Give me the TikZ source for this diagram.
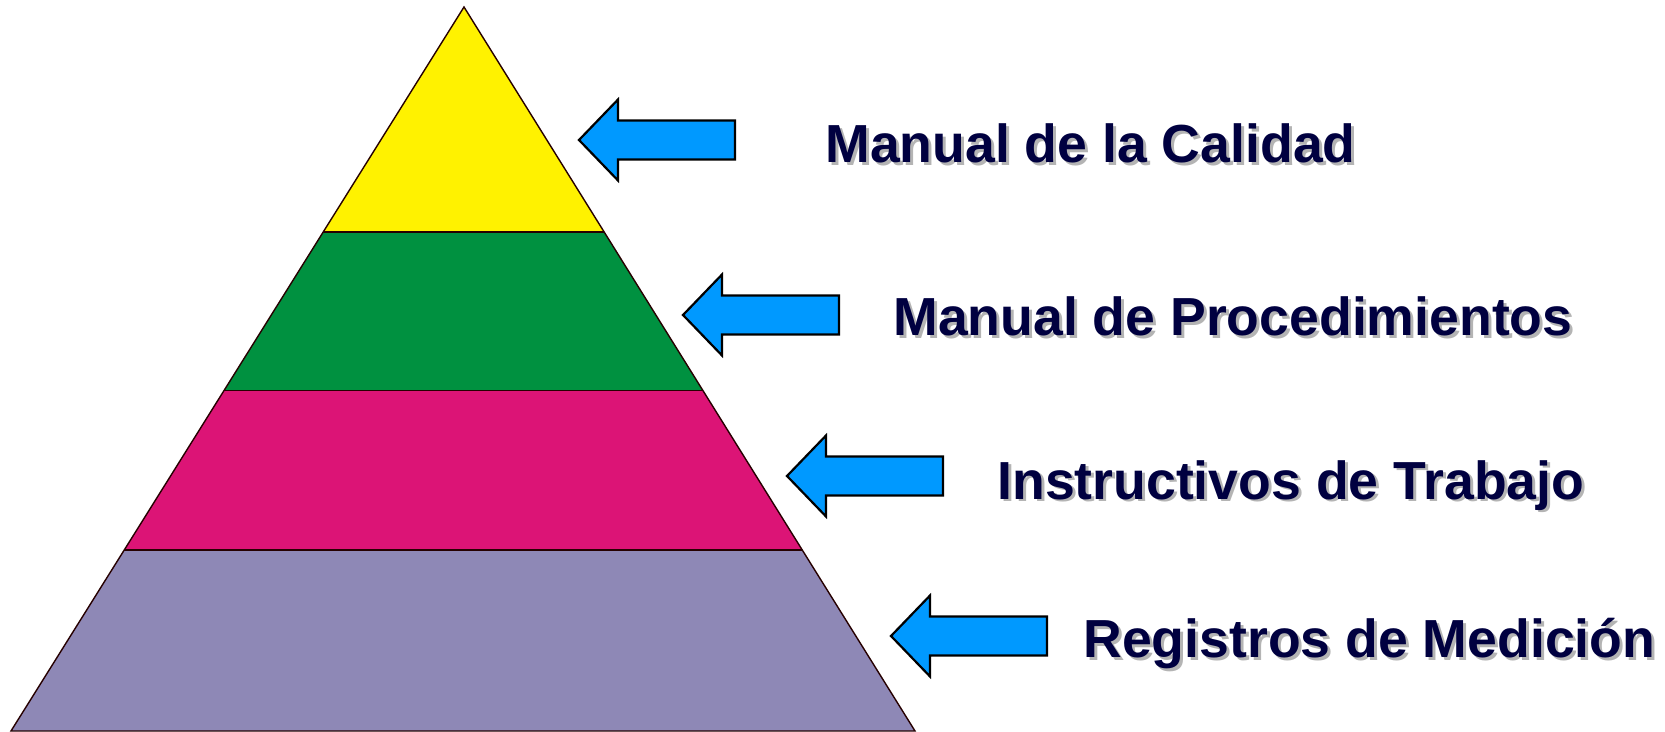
\documentclass[tikz,border=0pt]{standalone}
\usepackage{fontspec}
\setmainfont{Liberation Sans}
\usetikzlibrary{calc}

\definecolor{amarillo}{HTML}{FFF200}
\definecolor{verde}{HTML}{009140}
\definecolor{rosa}{HTML}{DC1476}
\definecolor{lila}{HTML}{8E88B6}
\definecolor{azul}{HTML}{0099FF}
\definecolor{marino}{HTML}{000040}
\definecolor{sombra}{HTML}{B4B4B4}

\tikzset{
  linea/.style={draw=black!85!red, line width=0.7pt, line join=miter},
  flechaest/.style={fill=azul, draw=black, line width=1.1pt, line join=miter},
  rotulo/.style={anchor=base west, inner sep=0pt,
                 font=\fontsize{26.8}{30}\selectfont\bfseries}
}

% flecha con la punta en #1
\newcommand{\flecha}[1]{%
  \draw[flechaest] (#1) -- ++(39,-40.5) -- ++(0,21) -- ++(117,0)
        -- ++(0,39) -- ++(-117,0) -- ++(0,21) -- cycle;}

% rotulo con sombra
\newcommand{\rotulo}[3]{%
  \node[rotulo, text=sombra] (#1s) at ($(#2)+(3,3)$) {#3};
  \node[rotulo, text=marino] (#1)  at (#2)           {#3};}

\begin{document}
\begin{tikzpicture}[x=0.5pt,y=-0.5pt]

        \useasboundingbox (0,0) rectangle (1665,732);

        % piramide
        \coordinate (cima) at (464,7);
        \coordinate (bizq) at (11,731);
        \coordinate (bder) at (915,731);

        \coordinate (i1) at ($(cima)!0.311!(bizq)$);
        \coordinate (d1) at ($(cima)!0.311!(bder)$);
        \coordinate (i2) at ($(cima)!0.530!(bizq)$);
        \coordinate (d2) at ($(cima)!0.530!(bder)$);
        \coordinate (i3) at ($(cima)!0.750!(bizq)$);
        \coordinate (d3) at ($(cima)!0.750!(bder)$);

        \fill[amarillo] (cima) -- (d1) -- (i1) -- cycle;
        \fill[verde]    (i1) -- (d1) -- (d2) -- (i2) -- cycle;
        \fill[rosa]     (i2) -- (d2) -- (d3) -- (i3) -- cycle;
        \fill[lila]     (i3) -- (d3) -- (bder) -- (bizq) -- cycle;

        \draw[linea] (i1) -- (d1);
        \draw[linea] (i2) -- (d2);
        \draw[linea] (i3) -- (d3);
        \draw[linea] (cima) -- (bder) -- (bizq) -- cycle;

        % flechas
        \coordinate (punta1) at (579,140);
        \coordinate (punta2) at (683,315);
        \coordinate (punta3) at (787,476);
        \coordinate (punta4) at (891,636);

        \flecha{punta1}
        \flecha{punta2}
        \flecha{punta3}
        \flecha{punta4}

        % textos
        \coordinate (t1) at (825,163);
        \coordinate (t2) at (893,336);
        \coordinate (t3) at (997,499);
        \coordinate (t4) at (1083,657);

        \rotulo{calidad}{t1}{Manual de la Calidad}
        \rotulo{procedimientos}{t2}{Manual de Procedimientos}
        \rotulo{instructivos}{t3}{Instructivos de Trabajo}
        \rotulo{registros}{t4}{Registros de Medición}

      \end{tikzpicture}
\end{document}
